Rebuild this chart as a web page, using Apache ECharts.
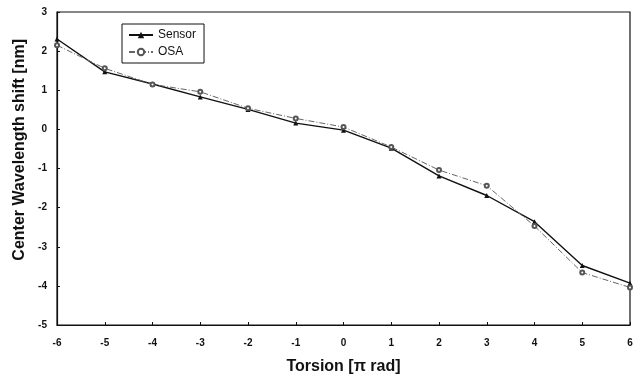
<!DOCTYPE html>
<html>
<head>
<meta charset="utf-8">
<script src="https://cdn.jsdelivr.net/npm/echarts@6/dist/echarts.min.js"></script>
<style>
  html, body { margin: 0; padding: 0; background: #fff; }
  #main { width: 642px; height: 376px; }
</style>
</head>
<body>
<div id="main"></div>
<script>
// torsion in units of pi rad
var torsion = [-6, -5, -4, -3, -2, -1, 0, 1, 2, 3, 4, 5, 6];
var sensor = [2.31, 1.47, 1.16, 0.83, 0.51, 0.16, -0.02, -0.48, -1.19, -1.69, -2.36, -3.48, -3.93];
var osa = [2.15, 1.56, 1.15, 0.96, 0.54, 0.28, 0.06, -0.45, -1.04, -1.44, -2.47, -3.66, -4.04];

function pairs(ys) {
    return torsion.map(function (x, i) { return [x, ys[i]]; });
}

var font = 'Liberation Sans, Arial, sans-serif';

var option = {
    animation: false,
    backgroundColor: '#fff',
    textStyle: { fontFamily: font },
    grid: {
        left: 57, right: 12, top: 12, bottom: 51,
        outerBoundsMode: 'none',
        show: true, borderColor: '#111', borderWidth: 1.2
    },
    legend: {
        orient: 'vertical',
        left: 122, top: 24,
        itemWidth: 24, itemHeight: 8, itemGap: 5,
        padding: [5, 8, 5, 6],
        borderColor: '#111', borderWidth: 1,
        textStyle: { fontFamily: font, fontSize: 12, color: '#111' },
        data: ['Sensor', 'OSA']
    },
    // y axis title sits a bit above the plot centre in the original
    graphic: [{
        type: 'text', left: 12, top: 39,
        rotation: Math.PI / 2,
        style: {
            text: 'Center Wavelength shift [nm]',
            font: 'bold 16px Liberation Sans, Arial, sans-serif',
            fill: '#111'
        }
    }],
    xAxis: {
        type: 'value', min: -6, max: 6, interval: 1,
        name: 'Torsion [\u03c0 rad]', nameLocation: 'middle', nameGap: 34,
        nameTextStyle: { fontFamily: font, fontSize: 16, fontWeight: 'bold', color: '#111' },
        axisLine: { show: true, onZero: false, lineStyle: { color: '#111', width: 1.2 } },
        axisTick: { show: true, inside: true, length: 3, lineStyle: { color: '#111' } },
        axisLabel: { fontFamily: font, fontSize: 10, fontWeight: 'bold', color: '#111', margin: 13 },
        splitLine: { show: false }
    },
    yAxis: {
        type: 'value', min: -5, max: 3, interval: 1,
        axisLine: { show: true, onZero: false, lineStyle: { color: '#111', width: 1.2 } },
        axisTick: { show: true, inside: true, length: 3, lineStyle: { color: '#111' } },
        axisLabel: { fontFamily: font, fontSize: 10, fontWeight: 'bold', color: '#111', margin: 10 },
        splitLine: { show: false }
    },
    series: [
        {
            name: 'Sensor', type: 'line', data: pairs(sensor),
            symbol: 'triangle', symbolSize: 5,
            itemStyle: { color: '#111' },
            lineStyle: { color: '#111', width: 1.4 }
        },
        {
            name: 'OSA', type: 'line', data: pairs(osa),
            symbol: 'emptyCircle', symbolSize: 4,
            itemStyle: { color: '#555', borderWidth: 1 },
            lineStyle: { color: '#666', width: 1, type: [6, 2, 1, 2] }
        }
    ]
};

var chart = echarts.init(document.getElementById('main'));
chart.setOption(option);
</script>
</body>
</html>
